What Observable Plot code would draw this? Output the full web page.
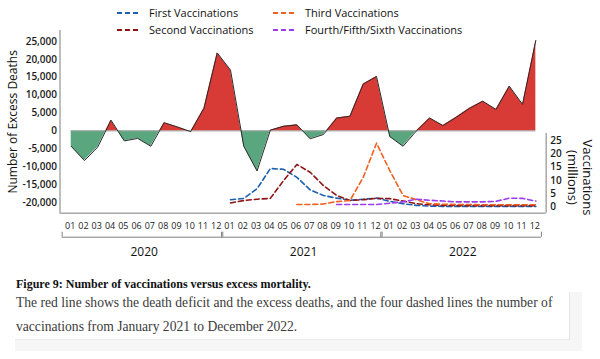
<!DOCTYPE html>
<html><head><meta charset="utf-8">
<script src="https://cdn.jsdelivr.net/npm/d3@7"></script>
<script src="https://cdn.jsdelivr.net/npm/@observablehq/plot@0.6"></script>
<style>
body{margin:0;background:#fff;font-family:"Open Sans",sans-serif;}
#wrap{position:relative;width:600px;height:359px;overflow:hidden;}
#wrap svg.layer{position:absolute;left:0;top:0;}
.leg{position:absolute;display:flex;align-items:center;font-size:11px;color:#111;white-space:nowrap;line-height:12px;}
.leg svg{margin-right:10px;}
#fig{position:absolute;left:16px;top:277px;font-family:"Liberation Serif",serif;font-weight:bold;font-size:12px;line-height:14px;color:#111;white-space:nowrap;}
#panel{position:absolute;left:15px;top:292px;width:567px;height:59px;background:#f6f6f6;}
#box{position:absolute;left:15px;top:292px;width:554px;height:47px;background:#fff;border-right:1px solid #e4e4e4;border-bottom:1px solid #ebebeb;}
#para{position:absolute;left:16px;top:291px;font-family:"Liberation Serif",serif;font-size:13.6px;line-height:24px;color:#3a3a3a;white-space:nowrap;}
</style></head><body><div id="wrap"></div><script>
// ---- data ----
const monthLabels = ["01","02","03","04","05","06","07","08","09","10","11","12"];
const years = [2020, 2021, 2022];
// monthly excess deaths, Jan 2020 - Dec 2022
const excessDeaths = [
  -4300, -8300, -4500, 3000, -2800, -2100, -4300, 2300, 1100, -200, 6300, 21800,
  17000, -4300, -11200, 200, 1300, 1700, -2200, -1000, 3600, 4100, 13100, 15200,
  -1600, -4300, 0, 3600, 1500, 3800, 6300, 8300, 6000, 12500, 7400, 25300
];
// vaccinations (millions), Jan 2021 - Dec 2022
const firstVacc  = [2.8, 3.3, 6.9, 14.5, 14.2, 11.2, 6.5, 4.4, 3.4, 2.6, 3.0, 3.4, 2.2, 1.3, 0.7, 0.4, 0.3, 0.3, 0.3, 0.3, 0.3, 0.3, 0.3, 0.3];
const secondVacc = [1.6, 2.5, 3.0, 3.3, 10.0, 16.0, 13.1, 8.1, 4.4, 2.5, 2.8, 3.3, 3.2, 2.3, 1.3, 0.9, 0.7, 0.6, 0.6, 0.6, 0.6, 0.6, 0.6, 0.6];
const thirdVacc  = [null, null, null, null, null, 1.0, 1.0, 1.2, 2.1, 2.5, 11.2, 24.0, 13.7, 4.4, 2.8, 1.3, 1.1, 1.0, 1.0, 0.9, 0.9, 0.9, 0.9, 0.9];
const laterVacc  = [null, null, null, null, null, null, null, null, 1.0, 1.0, 1.0, 1.0, 1.5, 2.0, 3.0, 2.6, 2.3, 2.0, 2.0, 2.0, 2.2, 3.4, 3.3, 2.3];
const seriesNames = ["First Vaccinations", "Second Vaccinations", "Third Vaccinations", "Fourth/Fifth/Sixth Vaccinations"];
const seriesColors = ["#1a5fb0", "#8e1414", "#f06020", "#9b3cf0"];
const seriesValues = [firstVacc, secondVacc, thirdVacc, laterVacc];

// ---- layout ----
const W = 600, H = 270;
const mL = 59.5, mR = 54.3, mT = 30, mB = 57.3;
const xDom = [-0.844, 35.78];
const yDom = [-23000, 28060];
const vDom = [-2.249, 66.23];
const font = "'Open Sans', sans-serif";
const wrap = document.getElementById("wrap");

// y-value offset for a pixel distance below the frame bottom (main scale)
const perPx = (yDom[1] - yDom[0]) / (H - mT - mB);
const belowPx = px => yDom[0] - px * perPx;

// excess-death points + zero crossings so the fills split at zero
const pts = excessDeaths.map((v, i) => ({i, v}));
const areaPts = [];
pts.forEach((a, k) => {
  areaPts.push(a);
  const b = pts[k + 1];
  if (b && a.v * b.v < 0) areaPts.push({i: a.i + a.v / (a.v - b.v), v: 0});
});

const minus = s => s.replace("\u2212", "-");

const main = Plot.plot({
  width: W, height: H,
  marginLeft: mL, marginRight: mR, marginTop: mT, marginBottom: mB,
  style: {background: "transparent", fontFamily: font, fontSize: "10px", color: "#1a1a1a", overflow: "visible"},
  x: {domain: xDom},
  y: {domain: yDom},
  marks: [
    Plot.areaY(areaPts, {x: "i", y: d => Math.max(d.v, 0), fill: "#d83b35"}),
    Plot.areaY(areaPts, {x: "i", y: d => Math.min(d.v, 0), fill: "#5aa67e"}),
    Plot.ruleY([0], {x1: 0, x2: 35, stroke: "#a0a0a0", strokeWidth: 1}),
    Plot.line(pts, {x: "i", y: "v", stroke: "#2a2a2a", strokeWidth: 1}),
    Plot.axisY({ticks: d3.range(-20000, 25001, 5000), tickFormat: d => minus(d3.format(",")(d)), tickSize: 0, tickPadding: 3, label: null, fontWeight: 600}),
    Plot.axisX({ticks: d3.range(36), tickFormat: i => monthLabels[i % 12], tickSize: 0, tickPadding: 9, label: null, fontSize: 9, dx: -1}),
    Plot.ruleX([xDom[0]], {y1: yDom[0], y2: yDom[1], stroke: "#a8a8a8", strokeWidth: 1.5}),
    Plot.ruleY([yDom[0]], {x1: xDom[0], x2: xDom[1], stroke: "#a8a8a8", strokeWidth: 1.5}),
    // year brackets
    Plot.ruleY(years, {y: () => belowPx(24), x1: (d, i) => i * 12 - 0.68, x2: (d, i) => i * 12 + 11.42, stroke: "#808080", strokeWidth: 1}),
    Plot.ruleX(years, {x: (d, i) => i * 12 - 0.68, y1: () => belowPx(19), y2: () => belowPx(24), stroke: "#808080", strokeWidth: 1}),
    Plot.ruleX(years, {x: (d, i) => i * 12 + 11.42, y1: () => belowPx(19), y2: () => belowPx(24), stroke: "#808080", strokeWidth: 1}),
    Plot.text(years, {x: (d, i) => i * 12 + 5.5, y: () => belowPx(39), text: d => String(d), fontSize: 12, fill: "#111", fontWeight: 500}),
    Plot.text(["Number of Excess Deaths"], {frameAnchor: "left", textAnchor: "middle", dx: -46.5, rotate: -90, fontSize: 12, fill: "#111"})
  ]
});
main.classList.add("layer");
wrap.appendChild(main);

// vaccination layer with its own right-hand scale
const vacc = [];
seriesValues.forEach((arr, s) => arr.forEach((v, k) => {
  if (v != null) vacc.push({series: seriesNames[s], i: 12 + k, v});
}));

const right = Plot.plot({
  width: W, height: H,
  marginLeft: mL, marginRight: mR, marginTop: mT, marginBottom: mB,
  style: {background: "transparent", fontFamily: font, fontSize: "10px", color: "#1a1a1a", overflow: "visible"},
  x: {domain: xDom, axis: null},
  y: {domain: vDom, axis: null},
  color: {domain: seriesNames, range: seriesColors},
  marks: [
    Plot.ruleX([xDom[1]], {y1: vDom[0], y2: 27.6, stroke: "#a8a8a8", strokeWidth: 1.5}),
    Plot.axisY({anchor: "right", ticks: [0, 5, 10, 15, 20, 25], tickSize: 0, tickPadding: 4, label: null, fontWeight: 600}),
    Plot.line(vacc, {x: "i", y: "v", z: "series", stroke: "series", strokeWidth: 1.6, strokeDasharray: "5,3"}),
    Plot.text(["Vaccinations"], {frameAnchor: "right", textAnchor: "middle", dx: 40.5, dy: 55.6, rotate: 90, fontSize: 13, fill: "#111"}),
    Plot.text(["(millions)"], {frameAnchor: "right", textAnchor: "middle", dx: 25.5, dy: 55.6, rotate: 90, fontSize: 13, fill: "#111"})
  ]
});
right.classList.add("layer");
wrap.appendChild(right);

// legend
const legPos = [[117, 7], [117, 24], [273, 7], [273, 24]];
seriesNames.forEach((name, s) => {
  const d = document.createElement("div");
  d.className = "leg";
  d.style.left = legPos[s][0] + "px";
  d.style.top = legPos[s][1] + "px";
  d.innerHTML = `<svg width="22" height="12"><line x1="0" x2="22" y1="6" y2="6" stroke="${seriesColors[s]}" stroke-width="2" stroke-dasharray="5,3"/></svg><span>${name}</span>`;
  wrap.appendChild(d);
});

// caption
wrap.insertAdjacentHTML("beforeend",
  `<div id="fig">Figure 9: Number of vaccinations versus excess mortality.</div>
   <div id="panel"></div><div id="box"></div>
   <div id="para">The red line shows the death deficit and the excess deaths, and the four dashed lines the number of<br>vaccinations from January 2021 to December 2022.</div>`);
</script></body></html>
